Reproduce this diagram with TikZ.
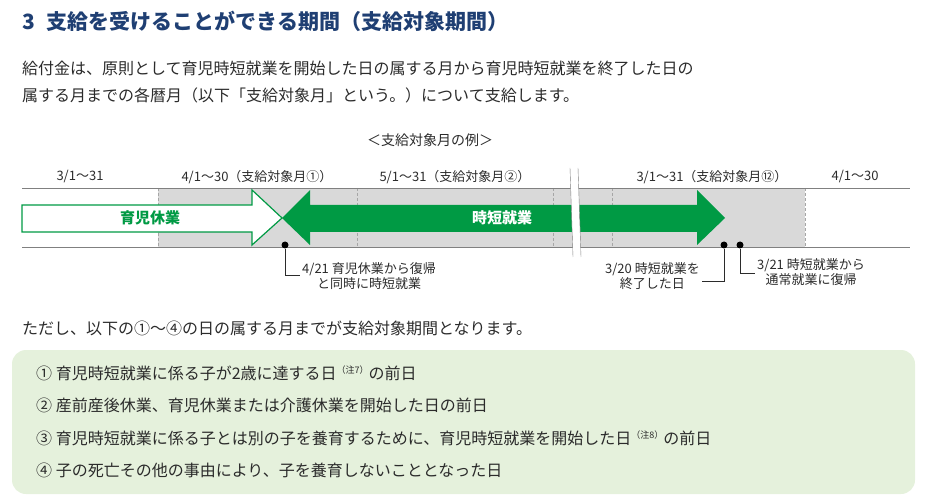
\documentclass[tikz,border=0pt]{standalone}
\usepackage{fontspec}
\setmainfont{Noto Sans CJK JP}
\usetikzlibrary{arrows.meta, positioning}
\definecolor{navy}{HTML}{1F3F73}
\definecolor{wgreen}{HTML}{009A44}
\definecolor{boxgreen}{HTML}{E5F1DC}
\definecolor{ink}{HTML}{2B2B2B}

\begin{document}
\begin{tikzpicture} [x=1pt, y=-1pt,
    every node/.style = {inner sep=0pt, text=ink},
    lbl/.style = {font=\fontsize{13}{15}\selectfont},
    para/.style = {font=\fontsize{16}{19}\selectfont, anchor=west},
    item/.style = {font=\fontsize{16}{19}\selectfont, anchor=west},
    month/.style = {draw=gray!70, densely dashed, thin},
    leader/.style = {draw=ink, thin}]
    \useasboundingbox (0,0) rectangle (928,502);
    % heading and text
    \node (title) [anchor=west, font=\fontsize{21}{24}\selectfont\bfseries, text=navy] at (22,21)
        {3\hspace{12pt}支給を受けることができる期間（支給対象期間）};
    \node (p1) [para] at (22,68) {給付金は、原則として育児時短就業を開始した日の属する月から育児時短就業を終了した日の};
    \node (p2) [para] at (22,95) {属する月までの各暦月（以下「支給対象月」という。）について支給します。};
    \node (ex) [lbl, font=\fontsize{14}{16}\selectfont] at (430,140) {＜支給対象月の例＞};

    % timeline
    \fill [gray!30] (158,188) rectangle (805,247);
    \foreach \x in {158,357,553,612,805}
        \draw [month] (\x,188) -- (\x,247);
    \draw [gray] (22,188) -- (910,188);
    \draw [gray] (22,247) -- (910,247);
    \draw [wgreen, very thick, fill=white]
        (22,205) -- (252,205) -- (252,190) -- (282,218) -- (252,245) -- (252,232) -- (22,232) -- cycle;
    \fill [wgreen]
        (282,218) -- (310,190) -- (310,205) -- (697,205) -- (697,190) -- (725,218)
        -- (697,245) -- (697,232) -- (310,232) -- (310,245) -- cycle;
    \node (leave) [text=wgreen, font=\fontsize{15}{17}\selectfont\bfseries] at (150,218) {育児休業};
    \node (short) [text=white, font=\fontsize{15}{17}\selectfont\bfseries] at (502,218) {時短就業};
    % break
    \fill [white] (570,168) -- (578,168) -- (581,257) -- (573,257) -- cycle;
    \draw [gray] (570,168) -- (573,257) (578,168) -- (581,257);

    % months
    \node (m1) [lbl] at (80,177) {3/1～31};
    \node (m2) [lbl] at (257,177) {4/1～30（支給対象月①）};
    \node (m3) [lbl] at (455,177) {5/1～31（支給対象月②）};
    \node (m4) [lbl] at (712,177) {3/1～31（支給対象月⑫）};
    \node (m5) [lbl] at (855,177) {4/1～30};

    % events
    \node (d1) [circle, fill=black, minimum size=7pt] at (285,245) {};
    \node (d2) [circle, fill=black, minimum size=7pt] at (724,245) {};
    \node (d3) [circle, fill=black, minimum size=7pt] at (740,245) {};
    \node (e1) [lbl, align=center, anchor=north west] at (302,262) {4/21 育児休業から復帰\\と同時に時短就業};
    \node (e2) [lbl, align=center, anchor=north east] at (700,262) {3/20 時短就業を\\終了した日};
    \node (e3) [lbl, align=center, anchor=north west] at (757,258) {3/21 時短就業から\\通常就業に復帰};
    \coordinate (c1) at (d1 |- 0,275);
    \coordinate (c2) at (d2 |- 0,281);
    \coordinate (c3) at (d3 |- 0,273);
    \draw [leader] (d1) -- (c1) -- (300,275);
    \draw [leader] (d2) -- (c2) -- (702,281);
    \draw [leader] (d3) -- (c3) -- (755,273);

    % conditions
    \node (note) [para] at (22,328) {ただし、以下の①～④の日の属する月までが支給対象期間となります。};
    \fill [boxgreen, rounded corners=14pt] (12,350) rectangle (915,494);
    \node (i1) [item] at (36,373) {①\ 育児時短就業に係る子が2歳に達する日\raisebox{6pt}{\fontsize{9}{9}\selectfont（注7）}の前日};
    \node (i2) [item] at (36,405) {②\ 産前産後休業、育児休業または介護休業を開始した日の前日};
    \node (i3) [item] at (36,438) {③\ 育児時短就業に係る子とは別の子を養育するために、育児時短就業を開始した日\raisebox{6pt}{\fontsize{9}{9}\selectfont（注8）}の前日};
    \node (i4) [item] at (36,470) {④\ 子の死亡その他の事由により、子を養育しないこととなった日};
\end{tikzpicture}
\end{document}
